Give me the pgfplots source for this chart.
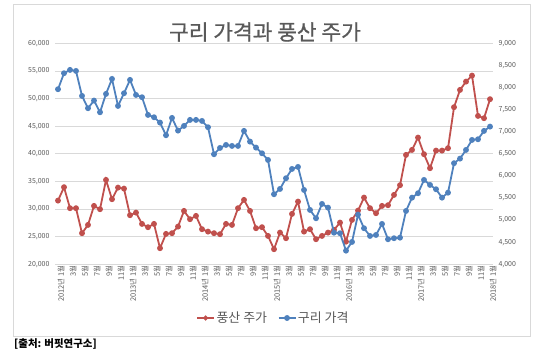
\documentclass[border=0pt]{standalone}
\usepackage{fontspec}
\setmainfont{Noto Sans CJK KR}
\newfontfamily\titlefont[FakeBold=0.8]{Noto Sans CJK KR}
\usepackage{pgfplots}
\pgfplotsset{compat=1.18}
\definecolor{cred}{HTML}{C0504D}
\definecolor{cblue}{HTML}{4F81BD}
\definecolor{tgray}{HTML}{595959}
\definecolor{ggray}{HTML}{D9D9D9}
\pgfplotstableread{
m red
0 31530
1 33954
2 30153
3 30153
4 25628
5 27130
6 30569
7 29972
8 35275
9 31782
10 33882
11 33701
12 28886
13 29357
14 27311
15 26714
16 27311
17 22913
18 25501
19 25628
20 26823
21 29664
22 28162
23 28759
24 26352
25 25918
26 25628
27 25447
28 27311
29 27130
30 30153
31 31655
32 29664
33 26533
34 26714
35 25139
36 22732
37 25737
38 24723
39 29121
40 31348
41 25918
42 26352
43 24542
44 25139
45 25737
46 26225
47 27547
48 24108
49 28035
50 29719
51 32072
52 30153
53 29248
54 30569
55 30696
56 32560
57 34316
58 39800
59 40705
60 42932
61 39927
62 37393
63 40579
64 40579
65 41013
66 48434
67 51565
68 53068
69 54154
70 46859
71 46443
72 49882
}\redtable
\pgfplotstableread{
m blue
0 7961
1 8323
2 8398
3 8375
4 7810
5 7531
6 7704
7 7440
8 7855
9 8194
10 7583
11 7870
12 8172
13 7832
14 7780
15 7380
16 7327
17 7206
18 6920
19 7312
20 7025
21 7131
22 7267
23 7267
24 7244
25 7101
26 6490
27 6633
28 6701
29 6678
30 6678
31 7018
32 6776
33 6640
34 6512
35 6361
36 5585
37 5705
38 5947
39 6158
40 6203
41 5682
42 5230
43 5042
44 5366
45 5282
46 4716
47 4703
48 4309
49 4506
50 5124
51 4816
52 4641
53 4664
54 4913
55 4567
56 4590
57 4603
58 5207
59 5508
60 5608
61 5909
62 5796
63 5698
64 5508
65 5621
66 6287
67 6391
68 6588
69 6814
70 6829
71 7018
72 7115
}\bluetable
\begin{document}
\begin{tikzpicture}[x=1bp,y=1bp]
\path (0,0) rectangle (540,356);
\draw[ggray, line width=0.75bp] (13.5,20) rectangle (530.5,352);
\pgfplotsset{
  every axis/.append style={
    scale only axis, width=438bp, height=221bp,
    xmin=-0.5, xmax=72.5,
    at={(55bp,91.7bp)}, anchor=south west,
    major tick length=0pt,
    axis line style={draw=none},
    /pgf/number format/assume math mode=true,
    /pgf/number format/1000 sep={,},
    scaled y ticks=false,
    tick label style={text=tgray, font=\fontsize{7}{8}\selectfont},
  }
}
\begin{axis}[
  ymin=20000, ymax=60000, ytick={20000,25000,...,60000},
  ymajorgrids, grid style={ggray, line width=0.75bp},
  xtick={0,2,...,72},
  xticklabels={2012년 1월,3월,5월,7월,9월,11월,2013년 1월,3월,5월,7월,9월,11월,2014년 1월,3월,5월,7월,9월,11월,2015년 1월,3월,5월,7월,9월,11월,2016년 1월,3월,5월,7월,9월,11월,2017년 1월,3월,5월,7월,9월,11월,2018년 1월},
  xticklabel style={rotate=90, anchor=east, font=\fontsize{7.5}{8}\selectfont, inner sep=1bp, yshift=-3bp},
  yticklabel style={xshift=-2bp},
]
\addplot[cred, line width=1.8bp, mark=*, mark size=2bp] table[x=m, y=red] {\redtable};
\end{axis}
\begin{axis}[
  ymin=4000, ymax=9000, ytick={4000,4500,...,9000},
  axis y line*=right, axis x line=none,
  yticklabel style={xshift=2bp},
  legend columns=2,
  legend style={draw=none, fill=none, at={(0.498,-0.243)}, anchor=center,
    font=\fontsize{13}{15}\selectfont, text=tgray,
    nodes={inner xsep=1.5bp},
    /tikz/every even column/.append style={column sep=9bp}},
]
\addlegendimage{cred, line width=1.8bp, mark=*, mark size=1.5bp}
\addlegendentry{풍산 주가}
\addplot[cblue, line width=1.8bp, mark=*, mark size=2bp] table[x=m, y=blue] {\bluetable};
\addlegendentry{구리 가격}
\end{axis}
\node[text=tgray, font=\titlefont\fontsize{21.5}{24}\selectfont] at (265,324) {구리 가격과 풍산 주가};
\node[anchor=west, inner sep=0pt, font=\bfseries\fontsize{10.5}{12}\selectfont] at (14,12) {[출처: 버핏연구소]};
\end{tikzpicture}
\end{document}
